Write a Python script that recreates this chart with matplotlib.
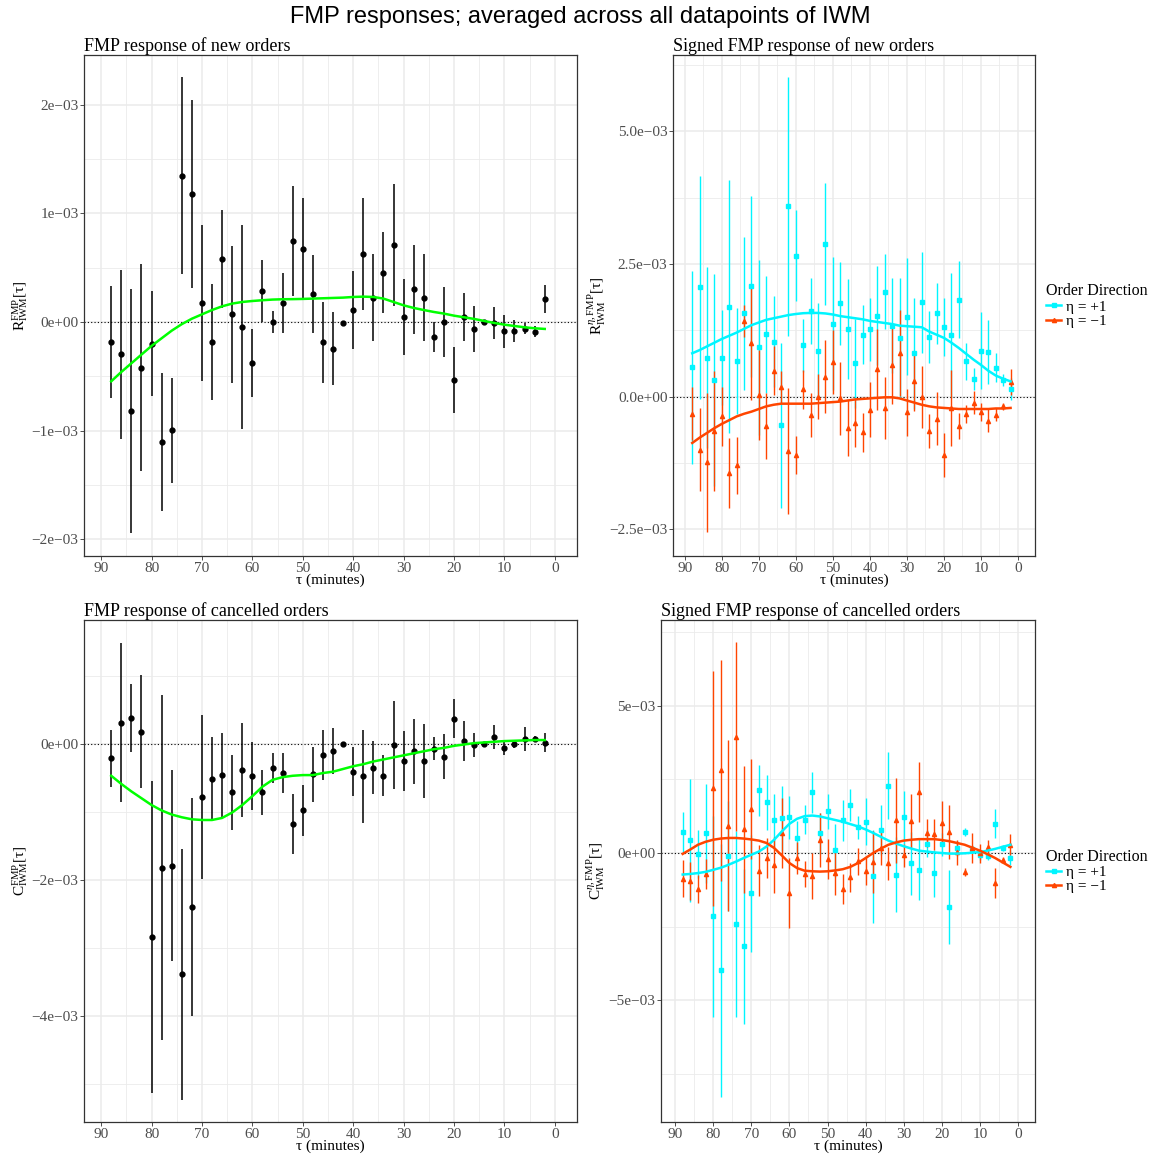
import numpy as np
import matplotlib
matplotlib.use("Agg")
import matplotlib.pyplot as plt
from matplotlib.lines import Line2D
from matplotlib.ticker import FixedLocator

plt.rcParams['font.family'] = ['Liberation Serif', 'DejaVu Serif']
plt.rcParams['mathtext.fontset'] = 'custom'
plt.rcParams['mathtext.rm'] = 'Liberation Serif'
plt.rcParams['mathtext.it'] = 'Liberation Serif:italic'
plt.rcParams['mathtext.bf'] = 'Liberation Serif:bold'

# ---------------- data (values in units of 1e-3) ----------------
tau = [88, 86, 84, 82, 80, 78, 76, 74, 72, 70, 68, 66, 64, 62, 60, 58, 56, 54, 52, 50,
       48, 46, 44, 42, 40, 38, 36, 34, 32, 30, 28, 26, 24, 22, 20, 18, 16, 14, 12, 10,
       8, 6, 4, 2]

# Top-left: FMP response of new orders
new_val = [-0.187, -0.298, -0.819, -0.42, -0.2, -1.104, -0.997, 1.347, 1.178, 0.175,
           -0.184, 0.58, 0.07, -0.049, -0.377, 0.285, 0.0, 0.175, 0.745, 0.675,
           0.255, -0.187, -0.245, -0.01, 0.107, 0.626, 0.221, 0.454, 0.709, 0.043,
           0.30, 0.221, -0.138, 0.0, -0.534, 0.046, -0.064, 0.0, -0.01, -0.086,
           -0.086, -0.064, -0.089, 0.212]
new_err = [0.517, 0.78, 1.12, 0.95, 0.485, 0.635, 0.48, 0.91, 0.865, 0.716,
           0.53, 0.45, 0.633, 0.94, 0.31, 0.287, 0.1, 0.273, 0.506, 0.47,
           0.36, 0.37, 0.333, 0.02, 0.36, 0.517, 0.40, 0.37, 0.56, 0.35,
           0.41, 0.40, 0.14, 0.32, 0.30, 0.225, 0.21, 0.02, 0.145, 0.153,
           0.1, 0.05, 0.05, 0.13]
new_smooth = [-0.546, -0.46, -0.38, -0.30, -0.22, -0.15, -0.08, -0.02, 0.03, 0.07,
              0.11, 0.144, 0.169, 0.184, 0.193, 0.20, 0.206, 0.209, 0.21, 0.212,
              0.215, 0.218, 0.221, 0.224, 0.23, 0.233, 0.23, 0.215, 0.184, 0.153,
              0.129, 0.11, 0.092, 0.077, 0.058, 0.043, 0.028, 0.009, -0.009, -0.025,
              -0.037, -0.049, -0.058, -0.064]

# Top-right: signed FMP response of new orders
new_pos_val = [0.553, 2.06, 0.74, 0.31, 0.74, 1.70, 0.67, 1.57, 2.08, 0.93,
               1.18, 1.04, -0.54, 3.59, 2.66, 0.97, 1.61, 0.87, 2.87, 1.38,
               1.76, 1.27, 0.63, 1.17, 1.27, 1.53, 1.98, 1.34, 1.10, 1.51,
               0.82, 1.78, 1.12, 1.57, 1.31, 1.16, 1.83, 0.67, 0.33, 0.87,
               0.84, 0.55, 0.31, 0.15]
new_pos_err = [1.82, 2.1, 1.71, 2.0, 0.89, 2.38, 1.0, 1.45, 1.7, 1.65,
               1.1, 0.85, 1.55, 2.44, 0.86, 0.5, 0.62, 0.9, 1.15, 1.25,
               0.78, 0.94, 0.84, 0.56, 0.6, 0.93, 0.71, 0.9, 1.14, 1.1,
               1.05, 0.95, 0.49, 0.58, 0.55, 1.18, 0.73, 0.35, 0.21, 0.72,
               0.6, 0.28, 0.11, 0.21]
new_pos_smooth = [0.82, 0.88, 0.95, 1.02, 1.09, 1.15, 1.21, 1.28, 1.35, 1.40,
                  1.45, 1.48, 1.51, 1.54, 1.56, 1.575, 1.58, 1.58, 1.57, 1.55,
                  1.52, 1.50, 1.48, 1.46, 1.43, 1.41, 1.39, 1.37, 1.34, 1.33,
                  1.32, 1.31, 1.23, 1.17, 1.11, 1.02, 0.92, 0.81, 0.70, 0.60,
                  0.49, 0.40, 0.34, 0.29]
new_neg_val = [-0.32, -1.0, -1.23, -0.65, -0.37, -1.43, -1.29, 1.43, 1.01, 0.04,
               -0.55, 0.49, 0.19, -1.02, -1.1, 0.14, -0.34, 0.0, 0.38, 0.65,
               -0.03, -0.59, -0.50, -0.67, -0.24, 0.52, -0.21, 0.6, 0.82, -0.29,
               0.29, 0.0, -0.64, -0.41, -1.1, -0.21, -0.55, -0.33, -0.11, -0.28,
               -0.45, -0.34, -0.18, 0.28]
new_neg_err = [0.5, 0.78, 1.31, 1.13, 0.55, 0.66, 0.54, 0.3, 1.07, 0.85,
               0.62, 0.46, 0.3, 1.19, 0.36, 0.37, 0.42, 0.42, 0.69, 0.6,
               0.69, 0.53, 0.45, 0.37, 0.52, 0.76, 0.59, 0.73, 0.81, 0.44,
               0.55, 0.58, 0.32, 0.5, 0.41, 0.72, 0.24, 0.17, 0.21, 0.17,
               0.22, 0.12, 0.06, 0.25]
new_neg_smooth = [-0.87, -0.77, -0.68, -0.59, -0.51, -0.44, -0.37, -0.32, -0.28, -0.23,
                  -0.18, -0.15, -0.13, -0.13, -0.13, -0.13, -0.13, -0.12, -0.11, -0.10,
                  -0.09, -0.07, -0.05, -0.04, -0.03, -0.02, -0.01, -0.01, -0.03, -0.07,
                  -0.11, -0.15, -0.18, -0.20, -0.21, -0.22, -0.23, -0.23, -0.23, -0.23,
                  -0.23, -0.22, -0.22, -0.21]

# Bottom-left: FMP response of cancelled orders
can_val = [-0.216, 0.31, 0.377, 0.18, -2.84, -1.82, -1.79, -3.39, -2.40, -0.78,
           -0.52, -0.46, -0.71, -0.39, -0.48, -0.71, -0.35, -0.43, -1.18, -0.98,
           -0.45, -0.16, -0.11, 0.0, -0.41, -0.48, -0.35, -0.47, -0.02, -0.25,
           -0.11, -0.25, -0.07, -0.19, 0.37, 0.04, -0.02, 0.0, 0.10, -0.06,
           -0.005, 0.07, 0.07, 0.015]
can_err = [0.42, 1.17, 0.5, 0.83, 2.3, 2.54, 1.41, 1.84, 1.6, 1.21,
           0.62, 0.62, 0.55, 0.69, 0.5, 0.33, 0.22, 0.3, 0.44, 0.37,
           0.4, 0.37, 0.34, 0.02, 0.36, 0.69, 0.39, 0.3, 0.65, 0.44,
           0.48, 0.54, 0.17, 0.33, 0.29, 0.3, 0.18, 0.02, 0.18, 0.11,
           0.06, 0.17, 0.05, 0.14]
can_smooth = [-0.47, -0.59, -0.70, -0.80, -0.90, -0.98, -1.04, -1.08, -1.11, -1.12,
              -1.12, -1.09, -1.01, -0.90, -0.77, -0.63, -0.53, -0.49, -0.47, -0.46,
              -0.46, -0.43, -0.41, -0.37, -0.33, -0.30, -0.26, -0.23, -0.20, -0.17,
              -0.14, -0.11, -0.08, -0.06, -0.03, -0.01, 0.01, 0.02, 0.03, 0.04,
              0.045, 0.05, 0.055, 0.055]

# Bottom-right: signed FMP response of cancelled orders
can_pos_val = [0.70, 0.43, -0.03, 0.67, -2.15, -3.98, -0.11, -2.41, -3.16, -1.37,
               2.12, 1.72, 1.11, 1.18, 1.21, 0.50, 1.13, 2.06, 0.67, 1.41,
               0.09, 1.11, 1.64, 0.87, 1.06, -0.79, 0.77, 2.28, -0.73, 1.21,
               -0.35, -0.56, 0.32, -0.69, 0.29, -1.82, 0.16, 0.70, 0.14, -0.06,
               -0.09, 0.99, 0.18, -0.16]
can_pos_err = [0.68, 2.09, 0.82, 1.68, 3.4, 4.3, 1.86, 3.16, 2.63, 1.98,
               0.88, 0.93, 0.9, 1.1, 0.73, 0.58, 0.5, 0.69, 0.69, 0.6,
               0.9, 0.7, 0.54, 0.4, 0.8, 1.57, 0.85, 1.13, 1.28, 0.9,
               1.07, 1.05, 0.47, 0.79, 0.4, 1.25, 0.25, 0.14, 0.14, 0.17,
               0.15, 0.49, 0.1, 0.25]
can_pos_smooth = [-0.73, -0.71, -0.68, -0.64, -0.57, -0.50, -0.40, -0.29, -0.17, -0.06,
                  0.05, 0.22, 0.45, 0.73, 0.99, 1.16, 1.25, 1.27, 1.24, 1.18,
                  1.12, 1.06, 0.98, 0.90, 0.80, 0.68, 0.55, 0.42, 0.32, 0.23,
                  0.15, 0.08, 0.05, 0.02, 0.0, -0.02, -0.02, -0.01, 0.01, 0.03,
                  0.08, 0.14, 0.21, 0.28]
can_neg_val = [-0.87, -0.96, -1.21, -0.71, 2.19, 2.80, 0.92, 3.95, 0.80, 1.49,
               -0.60, -0.17, -0.42, 0.68, -1.36, -0.17, -0.71, -0.78, 0.44, -0.19,
               -0.68, -1.22, -0.82, -0.28, -0.60, -0.31, 0.17, -0.34, 1.11, -0.08,
               1.08, 2.07, 0.68, 0.63, 1.02, 0.71, 0.03, -0.64, 0.17, -0.01,
               0.20, -1.03, -0.23, 0.28]
can_neg_err = [0.63, 0.64, 0.48, 0.5, 3.97, 3.74, 2.9, 3.2, 2.16, 1.71,
               0.86, 0.69, 0.95, 1.19, 1.18, 0.55, 0.44, 0.79, 0.93, 0.68,
               0.73, 0.52, 0.49, 0.45, 0.48, 1.06, 0.58, 0.56, 1.45, 0.4,
               0.92, 1.01, 0.48, 0.53, 0.76, 0.92, 0.42, 0.14, 0.52, 0.32,
               0.23, 0.51, 0.1, 0.36]
can_neg_smooth = [-0.03, 0.12, 0.28, 0.38, 0.45, 0.49, 0.51, 0.51, 0.49, 0.46,
                  0.42, 0.34, 0.17, -0.08, -0.34, -0.51, -0.60, -0.62, -0.63, -0.62,
                  -0.59, -0.55, -0.47, -0.34, -0.17, 0.0, 0.15, 0.28, 0.36, 0.42,
                  0.45, 0.47, 0.47, 0.47, 0.44, 0.40, 0.34, 0.28, 0.18, 0.08,
                  -0.04, -0.17, -0.32, -0.47]

# tick labels
x_ticks = [90, 80, 70, 60, 50, 40, 30, 20, 10, 0]
tl_yticks = [2, 1, 0, -1, -2]
tl_ylabels = ["2e\u221203", "1e\u221203", "0e+00", "\u22121e\u221203", "\u22122e\u221203"]
tr_yticks = [5, 2.5, 0, -2.5]
tr_ylabels = ["5.0e\u221203", "2.5e\u221203", "0.0e+00", "\u22122.5e\u221203"]
bl_yticks = [0, -2, -4]
bl_ylabels = ["0e+00", "\u22122e\u221203", "\u22124e\u221203"]
br_yticks = [5, 0, -5]
br_ylabels = ["5e\u221203", "0e+00", "\u22125e\u221203"]

titles = ["FMP response of new orders", "Signed FMP response of new orders",
          "FMP response of cancelled orders", "Signed FMP response of cancelled orders"]
legend_labels = ["\u03b7 = +1", "\u03b7 = \u22121"]
x_label = "\u03c4 (minutes)"

CYAN = "#00F5FF"
ORANGE = "#FF4500"
GREEN = "#00FF00"
GRID = "#EBEBEB"
TICKC = "#4D4D4D"

W, H = 1160, 1157
fig = plt.figure(figsize=(W / 100, H / 100), dpi=100)


def px_axes(l, t, r, b):
    return fig.add_axes([l / W, 1 - b / H, (r - l) / W, (b - t) / H])


def style(ax, xlim, ylim, yticks, ylabels, yminor, title, ylabel):
    ax.set_xlim(*xlim)
    ax.set_ylim(*ylim)
    ax.set_xticks(x_ticks)
    ax.set_xticklabels([str(v) for v in x_ticks])
    ax.set_yticks(yticks)
    ax.set_yticklabels(ylabels)
    ax.xaxis.set_minor_locator(FixedLocator([95, 85, 75, 65, 55, 45, 35, 25, 15, 5, -5]))
    ax.yaxis.set_minor_locator(FixedLocator(yminor))
    ax.grid(True, which='major', color=GRID, lw=1.1, zorder=0)
    ax.grid(True, which='minor', color=GRID, lw=0.6, zorder=0)
    ax.set_axisbelow(True)
    ax.tick_params(which='major', length=3, width=0.6, color='#333333',
                   labelcolor=TICKC, labelsize=11, pad=1)
    ax.tick_params(which='minor', length=0)
    for s in ax.spines.values():
        s.set_color('#333333')
        s.set_linewidth(0.9)
    ax.axhline(0, color='black', lw=0.8, ls=(0, (1, 2)), zorder=1)
    ax.set_title(title, loc='left', fontsize=13, pad=3)
    ax.set_xlabel(x_label, fontsize=11, labelpad=-1)
    ax.set_ylabel(ylabel, fontsize=11, labelpad=1)


t = np.array(tau)

# Top-left
ax1 = px_axes(84, 55, 577, 556)
style(ax1, (93.4, -4.4), (-2.153, 2.456), tl_yticks, tl_ylabels, [1.5, 0.5, -0.5, -1.5],
      titles[0], r"$\mathrm{R}^{\mathrm{FMP}}_{\mathrm{IWM}}[\mathrm{\tau}]$")
ax1.errorbar(t, new_val, yerr=new_err, fmt='o', color='black', ms=3.5, elinewidth=1.1,
             capsize=0, zorder=3)
ax1.plot(t, new_smooth, color=GREEN, lw=1.8, zorder=4)

# Top-right
ax2 = px_axes(673, 55, 1035, 556)
style(ax2, (93.2, -4.6), (-3.0, 6.44), tr_yticks, tr_ylabels, [6.25, 3.75, 1.25, -1.25],
      titles[1], r"$\mathrm{R}^{\eta,\mathrm{FMP}}_{\mathrm{IWM}}[\mathrm{\tau}]$")
ax2.errorbar(t, new_pos_val, yerr=new_pos_err, fmt='s', color=CYAN, ms=3, elinewidth=1.0,
             capsize=0, zorder=3)
ax2.errorbar(t, new_neg_val, yerr=new_neg_err, fmt='^', color=ORANGE, ms=3, elinewidth=1.0,
             capsize=0, zorder=3)
ax2.plot(t, new_pos_smooth, color=CYAN, lw=1.8, zorder=4)
ax2.plot(t, new_neg_smooth, color=ORANGE, lw=1.8, zorder=4)

# Bottom-left
ax3 = px_axes(84, 620, 577, 1122)
style(ax3, (93.4, -4.4), (-5.56, 1.82), bl_yticks, bl_ylabels, [1, -1, -3, -5],
      titles[2], r"$\mathrm{C}^{\mathrm{FMP}}_{\mathrm{IWM}}[\mathrm{\tau}]$")
ax3.errorbar(t, can_val, yerr=can_err, fmt='o', color='black', ms=3.5, elinewidth=1.1,
             capsize=0, zorder=3)
ax3.plot(t, can_smooth, color=GREEN, lw=1.8, zorder=4)

# Bottom-right
ax4 = px_axes(661, 620, 1035, 1122)
style(ax4, (93.7, -4.46), (-9.12, 7.9), br_yticks, br_ylabels, [7.5, 2.5, -2.5, -7.5],
      titles[3], r"$\mathrm{C}^{\eta,\mathrm{FMP}}_{\mathrm{IWM}}[\mathrm{\tau}]$")
ax4.errorbar(t, can_pos_val, yerr=can_pos_err, fmt='s', color=CYAN, ms=3, elinewidth=1.0,
             capsize=0, zorder=3)
ax4.errorbar(t, can_neg_val, yerr=can_neg_err, fmt='^', color=ORANGE, ms=3, elinewidth=1.0,
             capsize=0, zorder=3)
ax4.plot(t, can_pos_smooth, color=CYAN, lw=1.8, zorder=4)
ax4.plot(t, can_neg_smooth, color=ORANGE, lw=1.8, zorder=4)

handles = [Line2D([], [], color=CYAN, lw=1.8, marker='s', ms=3),
           Line2D([], [], color=ORANGE, lw=1.8, marker='^', ms=3)]
for ax in (ax2, ax4):
    leg = ax.legend(handles, legend_labels, title="Order Direction", loc='center left',
                    bbox_to_anchor=(1.005, 0.50), frameon=False, fontsize=11,
                    title_fontsize=11.5, handlelength=1.0, handletextpad=0.3,
                    labelspacing=0.05, borderaxespad=0.2)
    leg._legend_box.align = "left"

fig.suptitle("FMP responses; averaged across all datapoints of IWM",
             family=['Liberation Sans', 'DejaVu Sans'], fontsize=17, y=0.995, va='top')

fig.savefig("out.png", dpi=100)
